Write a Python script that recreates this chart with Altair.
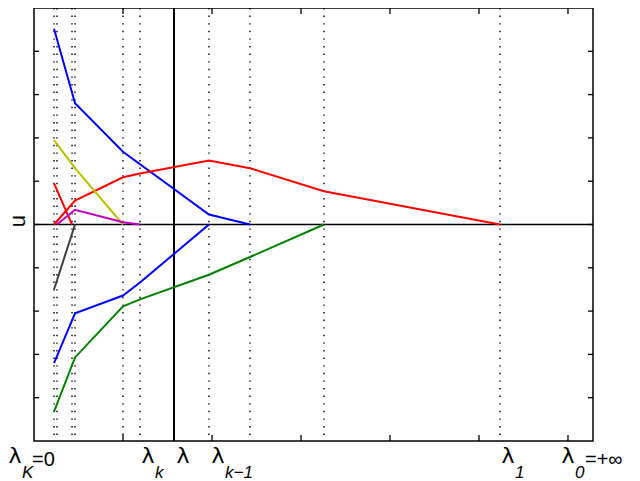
import altair as alt
import pandas as pd

# ---------------- data ----------------
# dotted vertical reference lines (x, data units)
dotted_x = [0.225, 0.258, 0.427, 0.461, 1.0, 1.191, 1.966, 2.427, 3.258, 5.236]
# solid vertical line (current lambda)
solid_x = [1.573]

series_names = ["blue_up", "blue_down", "green", "red_big", "red_small",
                "yellow", "magenta", "black"]
series_colors = ["#0000FF", "#0000FF", "#008000", "#FF0000", "#FF0000",
                 "#BFBF00", "#BF00BF", "#404040"]

blue_up_x = [0.225, 0.461, 1.0, 1.966, 2.427]
blue_up_y = [4.52, 2.80, 1.68, 0.23, 0.0]

blue_down_x = [0.225, 0.461, 1.0, 1.191, 1.966]
blue_down_y = [-3.20, -2.05, -1.64, -1.34, 0.0]

green_x = [0.225, 0.461, 1.0, 1.191, 1.966, 2.427, 3.258]
green_y = [-4.32, -3.07, -1.89, -1.73, -1.16, -0.75, 0.0]

red_big_x = [0.225, 0.461, 1.0, 1.191, 1.966, 2.427, 3.258, 5.236]
red_big_y = [0.0, 0.55, 1.09, 1.18, 1.48, 1.30, 0.77, 0.0]

red_small_x = [0.225, 0.427]
red_small_y = [0.95, 0.0]

yellow_x = [0.225, 0.461, 1.0]
yellow_y = [1.95, 1.30, 0.0]

magenta_x = [0.258, 0.461, 1.0, 1.191]
magenta_y = [0.0, 0.34, 0.05, 0.0]

black_x = [0.225, 0.461]
black_y = [-1.50, 0.0]

y_ticks = [-4, -3, -2, -1, 0, 1, 2, 3, 4]
x_ticks = [1, 2, 3, 4, 5, 6]

label_x = [-0.213, 1.281, 1.674, 2.067, 5.326, 6.000]
label_main = ["λ", "λ", "λ", "λ", "λ", "λ"]
label_sub = ["K", "k", "", "k−1", "1", "0"]
label_suffix = ["=0", "", "", "", "", "=+∞"]

y_title = "u"

# ---------------- build tables ----------------
series_xy = {
    "blue_up": (blue_up_x, blue_up_y),
    "blue_down": (blue_down_x, blue_down_y),
    "green": (green_x, green_y),
    "red_big": (red_big_x, red_big_y),
    "red_small": (red_small_x, red_small_y),
    "yellow": (yellow_x, yellow_y),
    "magenta": (magenta_x, magenta_y),
    "black": (black_x, black_y),
}
rows = []
for name in series_names:
    xs, ys = series_xy[name]
    for i, (xv, yv) in enumerate(zip(xs, ys)):
        rows.append({"series": name, "x": xv, "y": yv, "order": i})
lines_df = pd.DataFrame(rows)

W, H = 559, 433
FONT = "Liberation Sans"

xscale = alt.Scale(domain=[0, 6.281], nice=False, zero=False)
yscale = alt.Scale(domain=[-5, 5], nice=False, zero=False)

dotted = alt.Chart(pd.DataFrame({"x": dotted_x})).mark_rule(
    color="black", strokeWidth=1.4, strokeDash=[1.4, 6.2]
).encode(x=alt.X("x:Q", scale=xscale, axis=None))

solid = alt.Chart(pd.DataFrame({"x": solid_x})).mark_rule(
    color="black", strokeWidth=2
).encode(x=alt.X("x:Q", scale=xscale, axis=None))

zero_line = alt.Chart(pd.DataFrame({"y": [0]})).mark_rule(
    color="black", strokeWidth=1.4
).encode(y=alt.Y("y:Q", scale=yscale, axis=None))

lines = alt.Chart(lines_df).mark_line(strokeWidth=2).encode(
    x=alt.X("x:Q", scale=xscale, axis=None),
    y=alt.Y("y:Q", scale=yscale, axis=None),
    color=alt.Color("series:N", scale=alt.Scale(domain=series_names, range=series_colors),
                    legend=None),
    detail="series:N",
    order="order:Q",
)

ydf = pd.DataFrame({"v": y_ticks})
xdf = pd.DataFrame({"v": x_ticks})
tick_l = alt.Chart(ydf).mark_rule(color="black", strokeWidth=1.3).encode(
    y=alt.Y("v:Q", scale=yscale, axis=None), x=alt.value(0), x2=alt.value(5))
tick_r = alt.Chart(ydf).mark_rule(color="black", strokeWidth=1.3).encode(
    y=alt.Y("v:Q", scale=yscale, axis=None), x=alt.value(W - 5), x2=alt.value(W))
tick_b = alt.Chart(xdf).mark_rule(color="black", strokeWidth=1.3).encode(
    x=alt.X("v:Q", scale=xscale, axis=None), y=alt.value(H - 6), y2=alt.value(H))
tick_t = alt.Chart(xdf).mark_rule(color="black", strokeWidth=1.3).encode(
    x=alt.X("v:Q", scale=xscale, axis=None), y=alt.value(0), y2=alt.value(6))

lab_df = pd.DataFrame({"x": label_x, "main": label_main, "sub": label_sub,
                       "suffix": label_suffix})
lab_main = alt.Chart(lab_df).mark_text(
    font="DejaVu Sans", fontSize=22, align="center", baseline="alphabetic", color="black"
).encode(x=alt.X("x:Q", scale=xscale, axis=None), y=alt.value(455), text="main:N")
lab_sub = alt.Chart(lab_df).mark_text(
    font=FONT, fontSize=17, fontStyle="italic", align="left", baseline="alphabetic",
    dx=7, color="black"
).encode(x=alt.X("x:Q", scale=xscale, axis=None), y=alt.value(470), text="sub:N")
lab_suffix = alt.Chart(lab_df).mark_text(
    font=FONT, fontSize=20, align="left", baseline="alphabetic", dx=17, color="black"
).encode(x=alt.X("x:Q", scale=xscale, axis=None), y=alt.value(458), text="suffix:N")

ylab = alt.Chart(pd.DataFrame({"t": [y_title]})).mark_text(
    font=FONT, fontSize=22, angle=270, align="center", baseline="alphabetic",
    color="black"
).encode(x=alt.value(-9), y=alt.value(213), text="t:N")

chart = alt.layer(
    dotted, solid, zero_line, lines, tick_l, tick_r, tick_b, tick_t,
    lab_main, lab_sub, lab_suffix, ylab
).properties(
    width=W, height=H,
    autosize=alt.AutoSizeParams(type="none"),
    padding={"left": 26, "top": 0, "right": 39, "bottom": 48},
    background="white",
).configure_view(stroke="black", strokeWidth=1.5)

chart.save("out.html", embed_options={"renderer": "svg", "actions": False})
